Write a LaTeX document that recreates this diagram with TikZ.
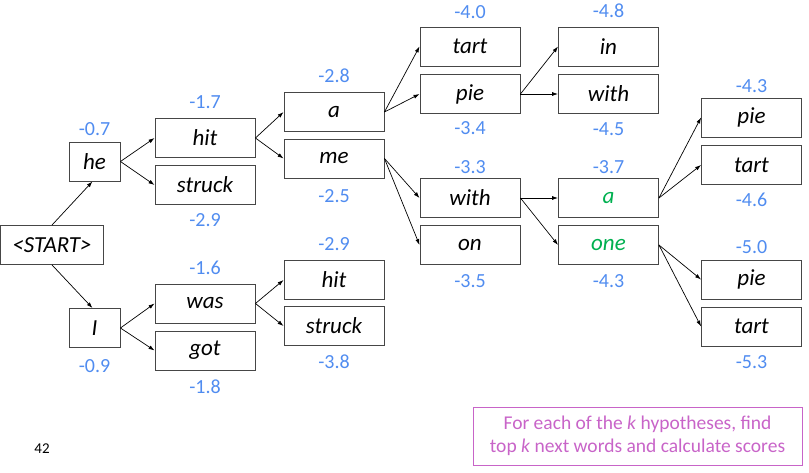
\documentclass[tikz,border=0pt]{standalone}
\usepackage{fontspec}
\setmainfont{Carlito}
\usetikzlibrary{arrows.meta}
\definecolor{scoreblue}{RGB}{80,140,240}
\definecolor{boxgray}{RGB}{70,70,70}
\definecolor{hypgreen}{RGB}{0,176,80}
\definecolor{notepurple}{RGB}{200,100,200}
\tikzset{
  wbox/.style={draw=boxgray, line width=0.9pt, minimum width=100pt, minimum height=39pt, inner sep=0pt,
    font=\itshape\fontsize{23}{27}\selectfont},
  sbox/.style={wbox, minimum width=51pt},
  score/.style={text=scoreblue, font=\fontsize{20}{24}\selectfont, inner sep=0pt},
  arr/.style={-{Latex[length=6pt,width=4pt]}, line width=0.7pt}
}
\begin{document}
\begin{tikzpicture}[x=1pt,y=-1pt]
\useasboundingbox (0,0) rectangle (809,472);
% level 0
\node[wbox, minimum width=103pt] (start) at (52,245) {<START>};
% level 1
\node[sbox] (he) at (94.5,161.5) {he};
\node[sbox] (I) at (94.5,328) {I};
% level 2
\node[wbox] (hit) at (205,138) {hit};
\node[wbox] (struck) at (205,185) {struck};
\node[wbox] (was) at (205,303.5) {was};
\node[wbox] (got) at (205,350.5) {got};
% level 3
\node[wbox] (a) at (334,112) {a};
\node[wbox] (me) at (334,158.5) {me};
\node[wbox] (hitb) at (334,280) {hit};
\node[wbox] (struckb) at (334,326) {struck};
% level 4
\node[wbox] (tart) at (470,46.5) {tart};
\node[wbox] (pie) at (470,94) {pie};
\node[wbox] (with) at (470,198) {with};
\node[wbox] (on) at (470,245) {on};
% level 5
\node[wbox] (in) at (608.5,46.5) {in};
\node[wbox] (withb) at (608.5,94) {with};
\node[wbox, text=hypgreen] (ag) at (608.5,198) {a};
\node[wbox, text=hypgreen] (one) at (608.5,245) {one};
% level 6
\node[wbox] (pieA) at (751.5,117.5) {pie};
\node[wbox] (tartA) at (751.5,165) {tart};
\node[wbox] (pieB) at (751.5,279.5) {pie};
\node[wbox] (tartB) at (751.5,326.5) {tart};
% scores
\node[score] (s1) at (94.5,129) {-0.7};
\node[score] (s2) at (94.5,366) {-0.9};
\node[score] (s3) at (205,102) {-1.7};
\node[score] (s4) at (205,220) {-2.9};
\node[score] (s5) at (205,268) {-1.6};
\node[score] (s6) at (205,387) {-1.8};
\node[score] (s7) at (334,76) {-2.8};
\node[score] (s8) at (334,196) {-2.5};
\node[score] (s9) at (334,244) {-2.9};
\node[score] (s10) at (334,362) {-3.8};
\node[score] (s11) at (470,12) {-4.0};
\node[score] (s12) at (470,128) {-3.4};
\node[score] (s13) at (470,167) {-3.3};
\node[score] (s14) at (470,281) {-3.5};
\node[score] (s15) at (608.5,11) {-4.8};
\node[score] (s16) at (608.5,129) {-4.5};
\node[score] (s17) at (608.5,167) {-3.7};
\node[score] (s18) at (608.5,281) {-4.3};
\node[score] (s19) at (751.5,86) {-4.3};
\node[score] (s20) at (751.5,200) {-4.6};
\node[score] (s21) at (751.5,247) {-5.0};
\node[score] (s22) at (751.5,362) {-5.3};
% connectors
\draw[arr] (start.north) -- ([xshift=-2pt]he.south);
\draw[arr] (start.south) -- ([xshift=-2pt]I.north);
\draw[arr] (he.east) -- (hit.west);
\draw[arr] (he.east) -- (struck.west);
\draw[arr] (I.east) -- (was.west);
\draw[arr] (I.east) -- (got.west);
\draw[arr] (hit.east) -- (a.west);
\draw[arr] (hit.east) -- (me.west);
\draw[arr] (was.east) -- (hitb.west);
\draw[arr] (was.east) -- (struckb.west);
\draw[arr] (a.east) -- (tart.west);
\draw[arr] (a.east) -- (pie.west);
\draw[arr] (me.east) -- (with.west);
\draw[arr] (me.east) -- (on.west);
\draw[arr] (pie.east) -- (in.west);
\draw[arr] (pie.east) -- (withb.west);
\draw[arr] (with.east) -- (ag.west);
\draw[arr] (with.east) -- (one.west);
\draw[arr] (ag.east) -- (pieA.west);
\draw[arr] (ag.east) -- (tartA.west);
\draw[arr] (one.east) -- (pieB.west);
\draw[arr] (one.east) -- (tartB.west);
% note
\node[draw=notepurple, line width=1pt, text=notepurple, minimum width=329pt, minimum height=58pt,
  align=center, inner sep=0pt, font=\fontsize{19.5}{23}\selectfont] (note) at (637.5,436)
  {For each of the \textit{k} hypotheses, find\\top \textit{k} next words and calculate scores};
\node[font=\fontsize{15}{17}\selectfont] (pg) at (42,449) {42};
\end{tikzpicture}
\end{document}
